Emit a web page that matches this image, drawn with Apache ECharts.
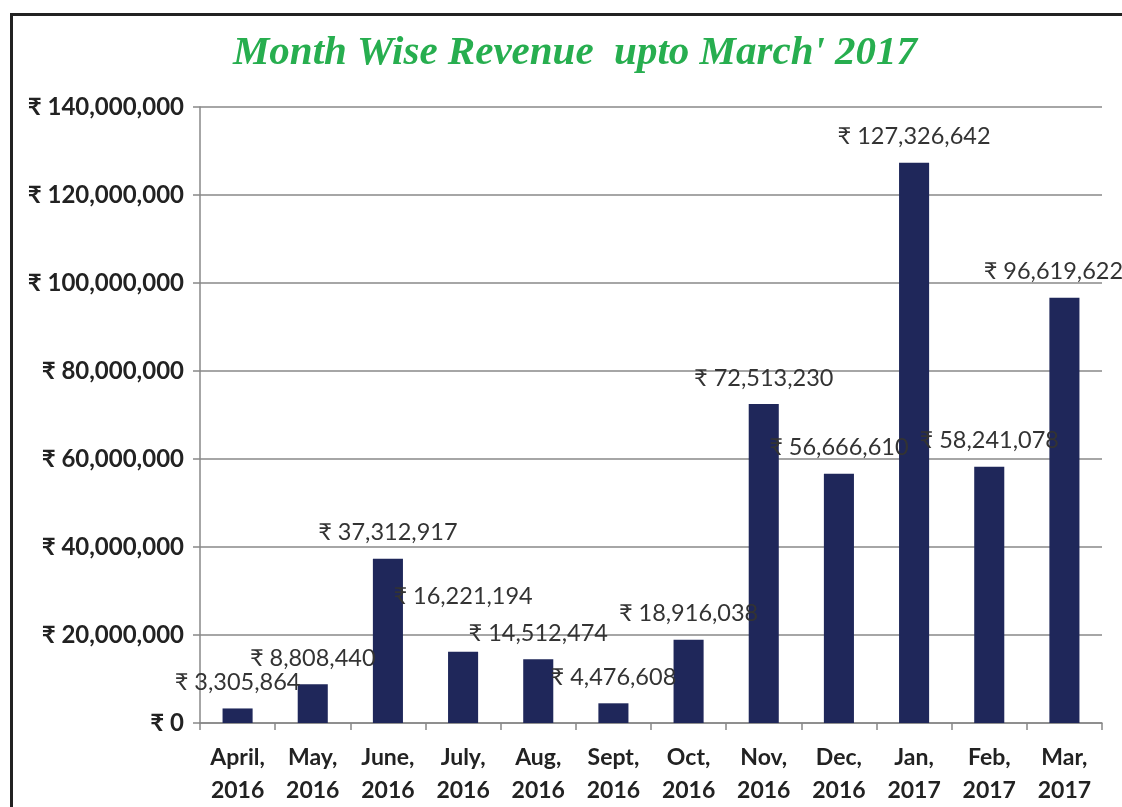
<!DOCTYPE html>
<html>
<head>
<meta charset="utf-8">
<script src="https://cdn.jsdelivr.net/npm/echarts@6/dist/echarts.min.js"></script>
<style>
  html, body { margin: 0; padding: 0; background: #fff; }
  #frame {
    position: absolute; left: 10px; top: 13px; width: 1112px; height: 794px;
    border-top: 3px solid #222; border-left: 3px solid #222; box-sizing: border-box;
  }
  #chart { position: absolute; left: 0; top: 0; width: 1122px; height: 807px; }
</style>
</head>
<body>
<div id="frame"></div>
<div id="chart"></div>
<script>
const months = ['April, 2016', 'May, 2016', 'June, 2016', 'July, 2016', 'Aug, 2016', 'Sept, 2016',
  'Oct, 2016', 'Nov, 2016', 'Dec, 2016', 'Jan, 2017', 'Feb, 2017', 'Mar, 2017']
const revenue = [3305864, 8808440, 37312917, 16221194, 14512474, 4476608,
  18916038, 72513230, 56666610, 127326642, 58241078, 96619622]
const yTicks = [0, 20000000, 40000000, 60000000, 80000000, 100000000, 120000000, 140000000]

function rupee(v) {
  return '₹ ' + Number(v).toLocaleString('en-US')
}

// a couple of labels were nudged by hand in the original
function barItem(v, i) {
  if (i === 3) return { value: v, label: { distance: 43 } }
  if (i === revenue.length - 1) return { value: v, label: { offset: [-11, 0] } }
  return v
}

const chart = echarts.init(document.getElementById('chart'))

chart.setOption({
  backgroundColor: 'transparent',
  animation: false,
  title: {
    text: "Month Wise Revenue  upto March' 2017",
    left: 570,
    top: 28,
    textAlign: 'center',
    textStyle: {
      fontFamily: 'Liberation Serif',
      fontStyle: 'italic',
      fontWeight: 'bold',
      fontSize: 41,
      color: '#27ae4f'
    }
  },
  grid: { left: 200, right: 20, top: 107, bottom: 83 },
  xAxis: {
    type: 'category',
    data: months,
    axisLine: { lineStyle: { color: '#888', width: 1.5 } },
    axisTick: { show: true, length: 7, lineStyle: { color: '#888', width: 1.5 } },
    axisLabel: {
      formatter: v => v.replace(', ', ',\n'),
      fontFamily: 'Lato, "Noto Sans", sans-serif',
      fontWeight: 'bold',
      fontSize: 23,
      lineHeight: 33,
      color: '#222',
      margin: 18
    }
  },
  yAxis: {
    type: 'value',
    min: yTicks[0],
    max: yTicks[yTicks.length - 1],
    interval: yTicks[1] - yTicks[0],
    axisLine: { show: true, lineStyle: { color: '#888', width: 1.5 } },
    axisTick: { show: true, length: 7, lineStyle: { color: '#888', width: 1.5 } },
    splitLine: { lineStyle: { color: '#888', width: 1.5 } },
    axisLabel: {
      formatter: rupee,
      fontFamily: 'Lato, "Noto Sans", sans-serif',
      fontWeight: 'bold',
      fontSize: 24,
      color: '#222',
      margin: 16
    }
  },
  series: [{
    type: 'bar',
    barWidth: '40%',
    itemStyle: { color: '#1f275a' },
    data: revenue.map(barItem),
    label: {
      show: true,
      position: 'top',
      distance: 14,
      formatter: p => rupee(p.value),
      fontFamily: 'Lato, "Noto Sans", sans-serif',
      fontSize: 23.5,
      color: '#333'
    }
  }]
})
</script>
</body>
</html>
